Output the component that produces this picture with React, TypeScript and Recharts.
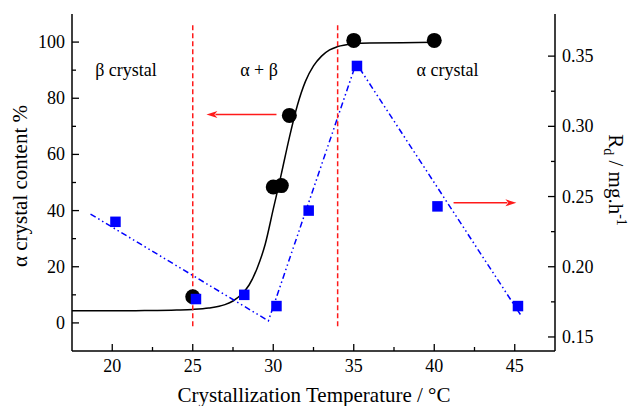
import React from 'react';
import { ComposedChart, Line, Scatter, XAxis, YAxis, ReferenceLine } from 'recharts';

const xMajorTicks = [20, 25, 30, 35, 40, 45];
const xMinorTicks = [22.5, 27.5, 32.5, 37.5, 42.5];
const leftMajorTicks = [0, 20, 40, 60, 80, 100];
const leftMinorTicks = [10, 30, 50, 70, 90];
const rightMajorTicks = [0.15, 0.2, 0.25, 0.3, 0.35];
const rightMinorTicks = [0.175, 0.225, 0.275, 0.325];

// alpha crystal content (%) measured points
const alphaTemp = [25, 30, 30.5, 31, 35, 40];
const alphaContent = [9.3, 48.4, 48.9, 73.9, 100.6, 100.6];

// fitted sigmoid
const fitTemp = [17.5, 20, 22, 24, 25, 26, 27, 27.5, 28, 28.5, 29, 29.5, 30, 30.5, 31, 31.5, 32, 32.5, 33, 33.5, 34, 35, 36, 38, 40];
const fitAlpha = [4.3, 4.3, 4.4, 4.6, 4.8, 5.3, 6.5, 7.8, 10, 13.5, 19.5, 28, 40.5, 53, 66, 77.5, 86, 91.5, 95, 97.2, 98.4, 99.4, 99.7, 99.8, 99.9];

// Rd (mg/h) measured points
const rdTemp = [20.2, 25.2, 28.2, 30.2, 32.2, 35.2, 40.2, 45.2];
const rdValue = [0.232, 0.177, 0.18, 0.172, 0.24, 0.343, 0.243, 0.172];

// Rd trend line
const rdTrendTemp = [18.65, 29.7, 35.15, 45.35];
const rdTrendValue = [0.2375, 0.1615, 0.345, 0.166];

// region boundaries and arrows
const boundaryTemps = [25, 34];
const boundarySpan = [-1.2, 106.7];
const leftArrow = { from: 30.2, to: 25.85, y: 74.2 };
const rightArrow = { from: 41.2, to: 45.1, y: 42.75 };

const zip = (xs: number[], ys: number[]) => xs.map((x, i) => ({ x, y: ys[i] }));
const alphaData = zip(alphaTemp, alphaContent);
const fitData = zip(fitTemp, fitAlpha);
const rdData = zip(rdTemp, rdValue);
const rdTrendData = zip(rdTrendTemp, rdTrendValue);

const FONT = '"Liberation Serif", "Times New Roman", serif';
const RED = '#ff1a1a';
const BLUE = '#0000ff';

const BottomTick = (props: any) => {
  const { x, y, payload } = props;
  const major = xMajorTicks.includes(payload.value);
  return (
    <g>
      <line x1={x} y1={y} x2={x} y2={y - (major ? 7 : 4)} stroke="#000" strokeWidth={1.3} />
      {major && (
        <text x={x} y={y + 21} textAnchor="middle" fontSize={18} fontFamily={FONT} fill="#000">
          {payload.value}
        </text>
      )}
    </g>
  );
};

const TopTick = (props: any) => {
  const { x, y, payload } = props;
  const major = xMajorTicks.includes(payload.value);
  return <line x1={x} y1={y} x2={x} y2={y + (major ? 7 : 4)} stroke="#000" strokeWidth={1.3} />;
};

const LeftTick = (props: any) => {
  const { x, y, payload } = props;
  const major = leftMajorTicks.includes(payload.value);
  return (
    <g>
      <line x1={x} y1={y} x2={x + (major ? 7 : 4)} y2={y} stroke="#000" strokeWidth={1.3} />
      {major && (
        <text x={x - 7} y={y + 6} textAnchor="end" fontSize={18} fontFamily={FONT} fill="#000">
          {payload.value}
        </text>
      )}
    </g>
  );
};

const RightTick = (props: any) => {
  const { x, y, payload } = props;
  const major = rightMajorTicks.some((t) => Math.abs(t - payload.value) < 1e-9);
  return (
    <g>
      <line x1={x} y1={y} x2={x - (major ? 7 : 4)} y2={y} stroke="#000" strokeWidth={1.3} />
      {major && (
        <text x={x + 7} y={y + 6} textAnchor="start" fontSize={18} fontFamily={FONT} fill="#000">
          {Number(payload.value).toFixed(2)}
        </text>
      )}
    </g>
  );
};

const Arrow = (props: any) => {
  const { x1, y1, x2, y2 } = props;
  const dir = x2 > x1 ? 1 : -1;
  const head = 11;
  return (
    <g>
      <line x1={x1} y1={y1} x2={x2 - dir * head + dir * 2} y2={y2} stroke={RED} strokeWidth={1.5} />
      <polygon
        points={`${x2},${y2} ${x2 - dir * head},${y2 - 3.5} ${x2 - dir * head + dir * 3},${y2} ${x2 - dir * head},${y2 + 3.5}`}
        fill={RED}
      />
    </g>
  );
};

const Circle = (props: any) => <circle cx={props.cx} cy={props.cy} r={7.5} fill="#000" />;
const Square = (props: any) => (
  <rect x={props.cx - 5.25} y={props.cy - 5.25} width={10.5} height={10.5} fill={BLUE} />
);

export default function App() {
  return (
    <div style={{ position: 'absolute', left: 0, top: 0, width: 630, height: 406, background: '#fff' }}>
      <ComposedChart width={630} height={406} margin={{ top: 14, right: 15, bottom: 15, left: 12 }}>
        <XAxis
          dataKey="x"
          type="number"
          domain={[17.5, 47.5]}
          allowDataOverflow
          ticks={[...xMajorTicks, ...xMinorTicks].sort((a, b) => a - b)}
          interval={0}
          height={40}
          tickSize={0}
          tickMargin={0}
          tickLine={false}
          tick={<BottomTick />}
          axisLine={{ stroke: '#000', strokeWidth: 1.5 }}
        />
        <XAxis
          xAxisId="top"
          orientation="top"
          dataKey="x"
          type="number"
          domain={[17.5, 47.5]}
          allowDataOverflow
          ticks={[...xMajorTicks, ...xMinorTicks].sort((a, b) => a - b)}
          interval={0}
          height={0}
          tickSize={0}
          tickMargin={0}
          tickLine={false}
          tick={<TopTick />}
          axisLine={{ stroke: '#000', strokeWidth: 1.5 }}
        />
        <YAxis
          yAxisId="left"
          dataKey="y"
          type="number"
          domain={[-10, 110]}
          allowDataOverflow
          ticks={[...leftMajorTicks, ...leftMinorTicks].sort((a, b) => a - b)}
          interval={0}
          width={60}
          tickSize={0}
          tickMargin={0}
          tickLine={false}
          tick={<LeftTick />}
          axisLine={{ stroke: '#000', strokeWidth: 1.5 }}
        />
        <YAxis
          yAxisId="right"
          orientation="right"
          dataKey="y"
          type="number"
          domain={[0.14, 0.38]}
          allowDataOverflow
          ticks={[...rightMajorTicks, ...rightMinorTicks].sort((a, b) => a - b)}
          interval={0}
          width={60}
          tickSize={0}
          tickMargin={0}
          tickLine={false}
          tick={<RightTick />}
          axisLine={{ stroke: '#000', strokeWidth: 1.5 }}
        />
        <Line
          yAxisId="left"
          data={fitData}
          dataKey="y"
          type="monotone"
          stroke="#000"
          strokeWidth={1.5}
          dot={false}
          activeDot={false}
          isAnimationActive={false}
        />
        <Line
          yAxisId="right"
          data={rdTrendData}
          dataKey="y"
          type="linear"
          stroke={BLUE}
          strokeWidth={1.5}
          strokeDasharray="6 3 1.5 3 1.5 3"
          dot={false}
          activeDot={false}
          isAnimationActive={false}
        />
        <Scatter yAxisId="left" data={alphaData} dataKey="y" shape={<Circle />} isAnimationActive={false} />
        <Scatter yAxisId="right" data={rdData} dataKey="y" shape={<Square />} isAnimationActive={false} />
        {boundaryTemps.map((t) => (
          <ReferenceLine
            key={t}
            yAxisId="left"
            segment={[
              { x: t, y: boundarySpan[0] },
              { x: t, y: boundarySpan[1] },
            ]}
            stroke={RED}
            strokeWidth={1.5}
            strokeDasharray="5 3"
            ifOverflow="visible"
          />
        ))}
        <ReferenceLine
          yAxisId="left"
          segment={[
            { x: leftArrow.from, y: leftArrow.y },
            { x: leftArrow.to, y: leftArrow.y },
          ]}
          shape={<Arrow />}
          ifOverflow="visible"
        />
        <ReferenceLine
          yAxisId="left"
          segment={[
            { x: rightArrow.from, y: rightArrow.y },
            { x: rightArrow.to, y: rightArrow.y },
          ]}
          shape={<Arrow />}
          ifOverflow="visible"
        />
      </ComposedChart>
      <svg
        width={630}
        height={406}
        style={{ position: 'absolute', left: 0, top: 0, pointerEvents: 'none' }}
        fontFamily={FONT}
      >
        <text x={126} y={76} textAnchor="middle" fontSize={18}>β crystal</text>
        <text x={259} y={76} textAnchor="middle" fontSize={18}>α + β</text>
        <text x={447.5} y={76} textAnchor="middle" fontSize={18}>α crystal</text>
        <text x={314} y={402} textAnchor="middle" fontSize={21}>Crystallization Temperature / °C</text>
        <text transform="translate(27,186) rotate(-90)" textAnchor="middle" fontSize={21}>α crystal content %</text>
        <text transform="translate(609,180) rotate(90)" textAnchor="middle" fontSize={21}>
          R<tspan fontSize={14} dy={5}>d</tspan>
          <tspan dy={-5}> / mg.h</tspan>
          <tspan fontSize={14} dy={-8}>-1</tspan>
        </text>
      </svg>
    </div>
  );
}
